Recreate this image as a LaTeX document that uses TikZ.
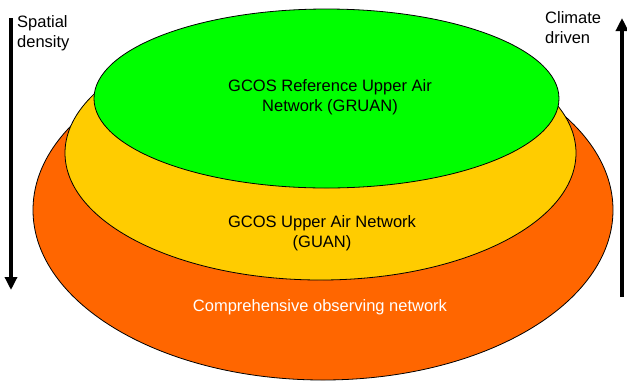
\documentclass[tikz,border=0pt]{standalone}
\usepackage{fontspec}
\setmainfont{Liberation Sans}
\usetikzlibrary{arrows.meta}
\definecolor{gruancol}{RGB}{0,255,0}
\definecolor{guancol}{RGB}{255,204,0}
\definecolor{comprcol}{RGB}{255,102,0}
\begin{document}
\begin{tikzpicture}[x=1pt,y=-1pt,
  layer/.style={draw=black, line width=0.8pt},
  lbl/.style={font=\fontsize{16.5}{20}\selectfont, align=center, inner sep=0pt},
  bigarrow/.style={line width=3.5pt, -{Triangle[width=12pt,length=13pt]}}]
\useasboundingbox (0,0) rectangle (627,384);
\fill[white] (0,0) rectangle (627,384);
\draw[layer, fill=comprcol] (323,210) ellipse [x radius=290pt, y radius=170pt];
\draw[layer, fill=guancol] (320.5,153) ellipse [x radius=255.5pt, y radius=127pt];
\draw[layer, fill=gruancol] (326.5,98.5) ellipse [x radius=232.5pt, y radius=89.5pt];
\node[lbl] (gruan) at (330,97) {GCOS Reference Upper Air\\Network (GRUAN)};
\node[lbl] (guan) at (322,233) {GCOS Upper Air Network\\(GUAN)};
\node[lbl, text=white] (comp) at (320,307) {Comprehensive observing network};
\node[lbl, anchor=west, align=left] (spatial) at (17,33) {Spatial\\density};
\node[lbl, anchor=west, align=left] (climate) at (545,28) {Climate\\driven};
\coordinate (sTop) at (11,18);
\coordinate (sBot) at (11,290);
\coordinate (cBot) at (622,297);
\coordinate (cTop) at (622,18);
\draw[bigarrow] (sTop) -- (sBot);
\draw[bigarrow] (cBot) -- (cTop);
\end{tikzpicture}
\end{document}
